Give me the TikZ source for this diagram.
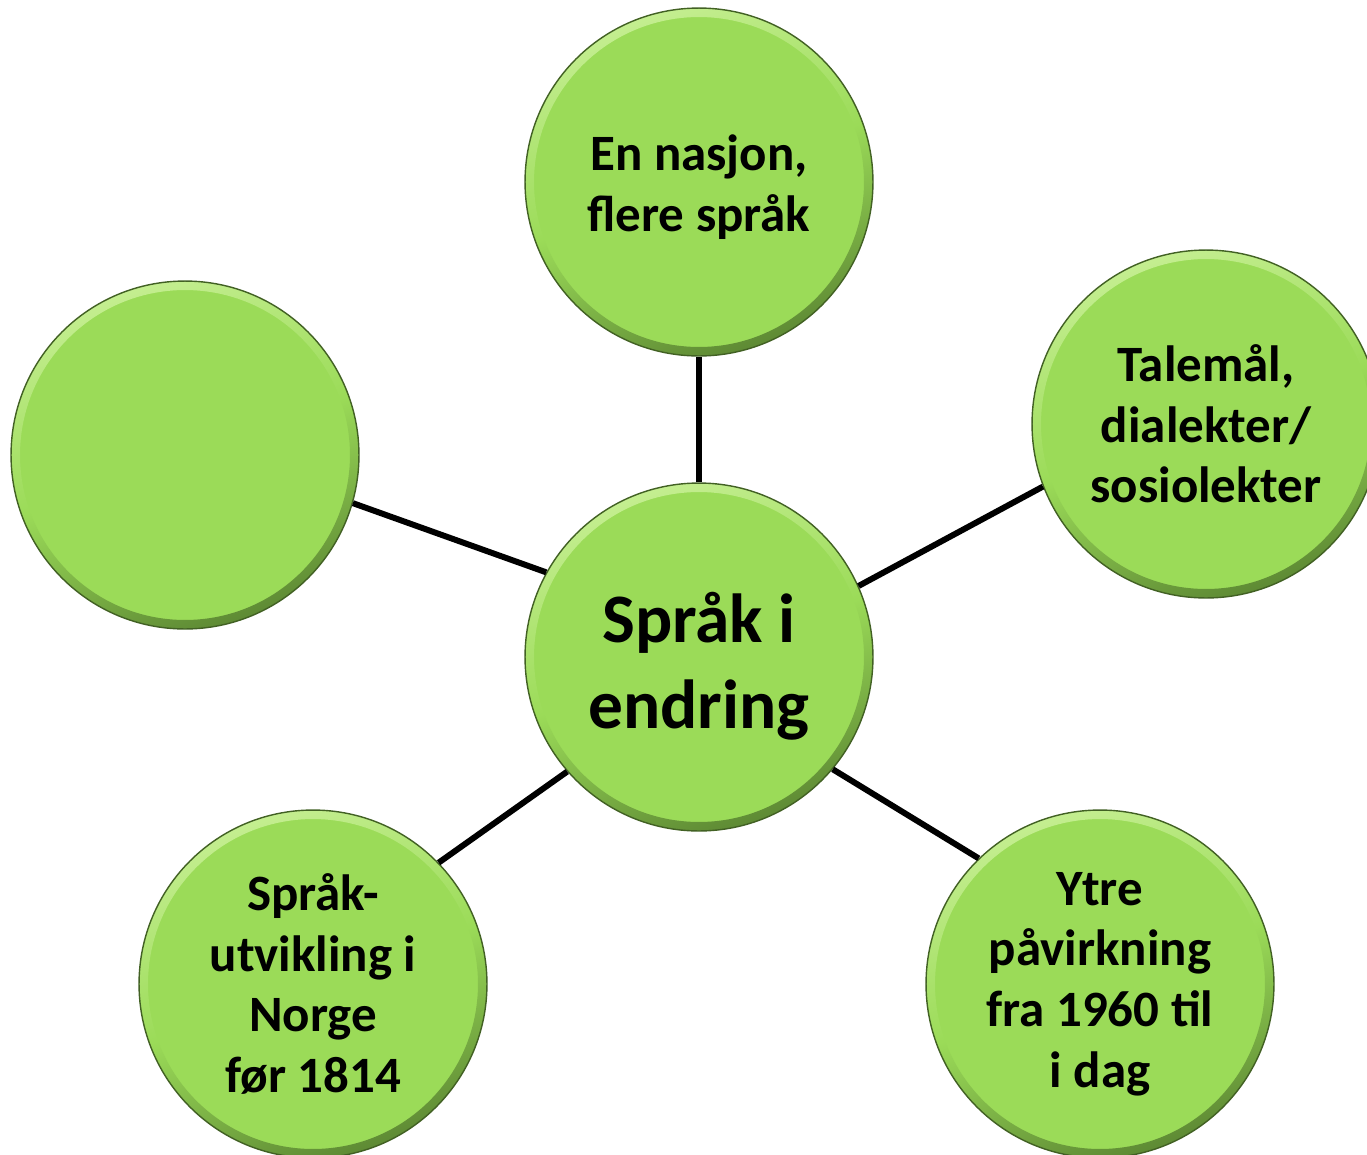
\documentclass[tikz,border=0pt]{standalone}
\usepackage{fontspec}
\setmainfont{Carlito}
\usetikzlibrary{positioning}

\definecolor{bubblegreen}{HTML}{9BDB58}
\definecolor{bubbleedge}{HTML}{5E8A34}
\definecolor{bubblelight}{HTML}{C4EE90}

\tikzset{
  bubble/.style={circle, minimum size=6.96cm, inner sep=0pt, fill=bubblegreen,
    draw=bubbleedge!70!black, line width=0.8pt, align=center,
    font=\bfseries\fontsize{29}{34.5}\selectfont,
    path picture={
      \fill[even odd rule, top color=bubblelight, bottom color=bubbleedge, middle color=bubblegreen, shading angle=20]
        (path picture bounding box.center) circle[radius=3.48cm]
        (path picture bounding box.center) circle[radius=3.30cm];
    }},
  spoke/.style={line width=3.4pt, black}
}

\begin{document}
\begin{tikzpicture}[x=0.02cm, y=-0.02cm]
  \useasboundingbox (0,0) rectangle (1367,1154);
  \fill[white] (0,0) rectangle (1367,1154);

  \node [bubble, font=\bfseries\fontsize{39.5}{49}\selectfont, text height=88pt] (hub) at (699,657) {Språk i\\endring};
  \node [bubble, text height=61pt] (nasjon) at (699,182) {En nasjon,\\flere språk};
  \node [bubble] (talemaal) at (1206,424) {Talemål,\\dialekter/\\sosiolekter};
  \node [bubble] (tom) at (185,455) {};
  \node [bubble] (utvikling) at (313,984) {Språk-\\utvikling i\\Norge\\før 1814};
  \node [bubble] (paavirkning) at (1100,984) {Ytre\\påvirkning\\fra 1960 til\\i dag};

  % spokes from the hub
  \draw [spoke] (hub.north) -- (nasjon.south);
  \draw [spoke] (hub.24) -- (talemaal.201.7);
  \draw [spoke] (hub.151.7) -- (tom.344);
  \draw [spoke] (hub.221.1) -- (utvikling.44.5);
  \draw [spoke] (hub.320.3) -- (paavirkning.134.5);
\end{tikzpicture}
\end{document}
